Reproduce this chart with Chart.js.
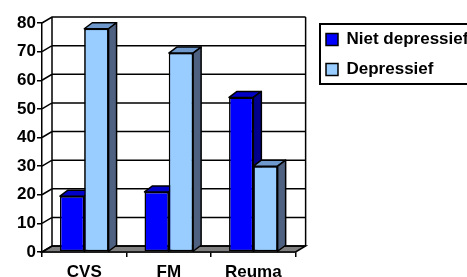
<!DOCTYPE html>
<html>
<head>
<meta charset="utf-8">
<script src="https://cdn.jsdelivr.net/npm/chart.js@4.4.0/dist/chart.umd.min.js"></script>
<style>html,body{margin:0;padding:0;background:#fff;overflow:hidden}</style>
</head>
<body>
<canvas id="chart" width="467" height="277"></canvas>
<script>
var categories = ['CVS', 'FM', 'Reuma'];
var seriesNames = ['Niet depressief', 'Depressief'];
var nietDepressief = [19.5, 21, 54];
var depressief = [78, 69.5, 30];
var yTicks = [0, 10, 20, 30, 40, 50, 60, 70, 80];

// depth of the walls and of the bars (fake 3D)
var DX = 10, DY = 6;
var BX = 8, BY = 6;
var faceColors = [
  {top: '#0000c8', side: '#00008c'},
  {top: '#6f99cc', side: '#4f6180'}
];

function drawFaces(ctx, bar, c) {
  var p = bar.getProps(['x', 'y', 'base', 'width'], true);
  var l = p.x - p.width / 2, r = p.x + p.width / 2;
  ctx.fillStyle = c.top;
  ctx.beginPath();
  ctx.moveTo(l, p.y);
  ctx.lineTo(l + BX, p.y - BY);
  ctx.lineTo(r + BX, p.y - BY);
  ctx.lineTo(r, p.y);
  ctx.closePath();
  ctx.fill();
  ctx.stroke();
  ctx.fillStyle = c.side;
  ctx.beginPath();
  ctx.moveTo(r, p.y);
  ctx.lineTo(r + BX, p.y - BY);
  ctx.lineTo(r + BX, p.base - BY);
  ctx.lineTo(r, p.base);
  ctx.closePath();
  ctx.fill();
  ctx.stroke();
}

var depth3d = {
  id: 'depth3d',
  afterLayout: function (chart) {
    chart.legend.left = 313;
    chart.legend.right = 480;
    chart.legend.top = 18;
  },
  beforeDatasetsDraw: function (chart) {
    var ctx = chart.ctx, a = chart.chartArea, y = chart.scales.y;
    ctx.save();
    ctx.lineWidth = 1.5;
    ctx.strokeStyle = '#000';
    // floor
    ctx.fillStyle = '#808080';
    ctx.beginPath();
    ctx.moveTo(a.left, a.bottom);
    ctx.lineTo(a.left + DX, a.bottom - DY);
    ctx.lineTo(a.right + DX, a.bottom - DY);
    ctx.lineTo(a.right, a.bottom);
    ctx.closePath();
    ctx.fill();
    ctx.stroke();
    // side wall + back wall grid
    ctx.beginPath();
    yTicks.forEach(function (v) {
      var py = y.getPixelForValue(v);
      ctx.moveTo(a.left, py);
      ctx.lineTo(a.left + DX, py - DY);
      ctx.lineTo(a.right + DX, py - DY);
    });
    ctx.moveTo(a.left + DX, a.top - DY);
    ctx.lineTo(a.left + DX, a.bottom - DY);
    ctx.moveTo(a.right + DX, a.top - DY);
    ctx.lineTo(a.right + DX, a.bottom - DY);
    ctx.stroke();
    ctx.restore();
  },
  afterDatasetsDraw: function (chart) {
    var ctx = chart.ctx;
    var m0 = chart.getDatasetMeta(0), m1 = chart.getDatasetMeta(1);
    ctx.save();
    ctx.lineWidth = 1.5;
    ctx.strokeStyle = '#000';
    ctx.lineJoin = 'round';
    categories.forEach(function (cat, i) {
      drawFaces(ctx, m0.data[i], faceColors[0]);
      m1.data[i].draw(ctx);
      ctx.lineWidth = 1.5;
      ctx.strokeStyle = '#000';
      drawFaces(ctx, m1.data[i], faceColors[1]);
    });
    ctx.restore();
  },
  afterDraw: function (chart) {
    // legend frame, its right side runs off the picture
    var ctx = chart.ctx;
    ctx.save();
    ctx.lineWidth = 2;
    ctx.strokeStyle = '#000';
    ctx.beginPath();
    ctx.moveTo(480, 24);
    ctx.lineTo(320, 24);
    ctx.lineTo(320, 84);
    ctx.lineTo(480, 84);
    ctx.stroke();
    ctx.restore();
  }
};

var font = {family: "'Liberation Sans', Arial, sans-serif", size: 17, weight: 'bold'};

new Chart('chart', {
  type: 'bar',
  data: {
    labels: categories,
    datasets: [
      {
        label: seriesNames[0],
        data: nietDepressief,
        backgroundColor: '#0000ff',
        borderColor: '#000',
        borderWidth: 1.5,
        borderSkipped: false
      },
      {
        label: seriesNames[1],
        data: depressief,
        backgroundColor: '#99ccff',
        borderColor: '#000',
        borderWidth: 1.5,
        borderSkipped: false
      }
    ]
  },
  options: {
    responsive: false,
    animation: false,
    layout: {padding: {top: 23, left: 0, right: 6, bottom: 0}},
    datasets: {bar: {categoryPercentage: 0.575, barPercentage: 1}},
    plugins: {
      tooltip: {enabled: false},
      legend: {
        position: 'right',
        align: 'start',
        maxWidth: 169,
        labels: {
          boxWidth: 12,
          boxHeight: 12,
          padding: 13,
          color: '#000',
          font: font
        }
      }
    },
    scales: {
      x: {
        afterFit: function (s) { s.height = 25; },
        grid: {drawOnChartArea: false, drawTicks: true, tickLength: 5, color: '#000', lineWidth: 1.5},
        border: {color: '#000', width: 1.5},
        ticks: {color: '#000', font: font, padding: 5}
      },
      y: {
        min: 0,
        max: 80,
        afterFit: function (s) { s.width = 42; },
        grid: {drawOnChartArea: false, drawTicks: true, tickLength: 5, color: '#000', lineWidth: 1.5},
        border: {color: '#000', width: 1.5},
        ticks: {stepSize: 10, color: '#000', font: font, padding: 1}
      }
    }
  },
  plugins: [depth3d]
});
</script>
</body>
</html>
